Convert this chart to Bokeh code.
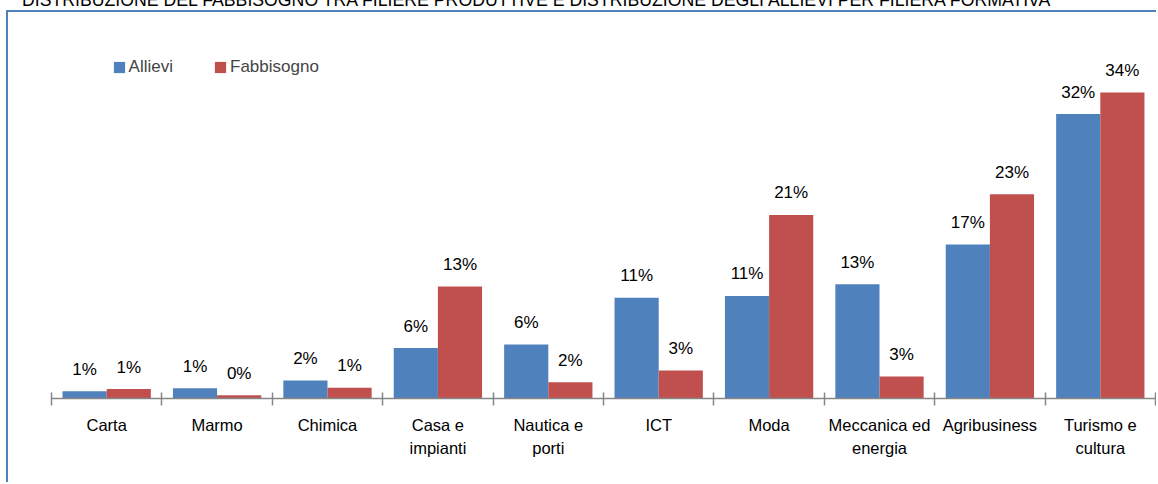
from bokeh.plotting import figure
from bokeh.models import (Range1d, LinearAxis, FixedTicker, Div, Column,
                          ColumnDataSource, Legend, LegendItem)
from bokeh.transform import dodge
from bokeh.core.properties import value
from bokeh.embed import file_html
from bokeh.resources import INLINE

# ---------------- data ----------------
title_text = ("DISTRIBUZIONE DEL FABBISOGNO TRA FILIERE PRODUTTIVE E "
              "DISTRIBUZIONE DEGLI ALLIEVI PER FILIERA FORMATIVA")
categories = ["Carta", "Marmo", "Chimica", "Casa e\nimpianti", "Nautica e\nporti", "ICT",
              "Moda", "Meccanica ed\nenergia", "Agribusiness", "Turismo e\ncultura"]
allievi = [0.8, 1.15, 2.0, 5.6, 6.0, 11.2, 11.4, 12.7, 17.1, 31.6]
fabbisogno = [1.05, 0.35, 1.2, 12.45, 1.8, 3.1, 20.4, 2.45, 22.7, 34.0]
allievi_labels = ["1%", "1%", "2%", "6%", "6%", "11%", "11%", "13%", "17%", "32%"]
fabbisogno_labels = ["1%", "0%", "1%", "13%", "2%", "3%", "21%", "3%", "23%", "34%"]
series_names = ["Allievi", "Fabbisogno"]

n = len(categories)
centers = [i + 0.5 for i in range(n)]
edges = list(range(n + 1))

FONT = "Liberation Sans"
BLUE = "#4F81BD"
RED = "#C0504D"
GREY = "#868686"

src = ColumnDataSource(dict(xc=centers, a=allievi, f=fabbisogno,
                            la=allievi_labels, lf=fabbisogno_labels))

W, H = 1150, 472
FRAME_TOP = 28
FRAME_BOTTOM = 386
PX_PER_PCT = 9.0

p = figure(width=W, height=H,
           x_range=Range1d(edges[0], edges[-1]),
           y_range=Range1d(0, (FRAME_BOTTOM - FRAME_TOP) / PX_PER_PCT),
           output_backend="svg", toolbar_location=None,
           x_axis_location=None, y_axis_location=None,
           min_border_left=43, min_border_right=3,
           min_border_top=FRAME_TOP, min_border_bottom=H - FRAME_BOTTOM)
p.styles = {"border-left": f"2px solid {BLUE}", "border-top": f"2px solid {BLUE}",
            "margin-left": "6px"}
p.outline_line_color = None
p.grid.visible = False
p.background_fill_color = "white"
p.border_fill_color = "white"

ra = p.vbar(x=dodge("xc", -0.2), top="a", width=0.4, source=src,
            fill_color=BLUE, line_color=None)
rf = p.vbar(x=dodge("xc", 0.2), top="f", width=0.4, source=src,
            fill_color=RED, line_color=None)

for xo, col, lab in [(-0.2, "a", "la"), (0.2, "f", "lf")]:
    p.text(x=dodge("xc", xo), y=col, text=lab, source=src,
           text_align="center", text_baseline="alphabetic", y_offset=-22,
           text_font=value(FONT), text_font_size="17px", text_color="#000000")

# axis with ticks at category boundaries
tick_axis = LinearAxis(ticker=FixedTicker(ticks=edges, minor_ticks=[]),
                       axis_line_color=GREY, axis_line_width=1.5,
                       major_tick_line_color=GREY, major_tick_line_width=1.5,
                       major_tick_in=6, major_tick_out=7,
                       minor_tick_line_color=None,
                       major_label_overrides={e: "" for e in edges},
                       major_label_text_font_size="1px", major_label_standoff=0)
p.add_layout(tick_axis, "below")

# category names
cat_axis = LinearAxis(ticker=FixedTicker(ticks=centers, minor_ticks=[]),
                      major_label_overrides={c: name for c, name in zip(centers, categories)},
                      axis_line_color=None, major_tick_line_color=None,
                      minor_tick_line_color=None, major_tick_in=0, major_tick_out=0,
                      major_label_standoff=10,
                      major_label_text_font=FONT, major_label_text_font_size="16.5px",
                      major_label_text_color="#000000",
                      major_label_text_line_height=1.3)
p.add_layout(cat_axis, "below")

legend = Legend(items=[LegendItem(label=series_names[0], renderers=[ra]),
                       LegendItem(label=series_names[1], renderers=[rf])],
                orientation="horizontal", location=(60.6, 321.5),
                glyph_width=14, glyph_height=14, label_standoff=3, spacing=40,
                padding=0, margin=0, border_line_color=None, background_fill_alpha=0,
                label_text_font=FONT, label_text_font_size="17px", label_height=20)
p.add_layout(legend, "center")

title = Div(text=title_text, width=1130, height=20, margin=(-10, 0, 0, 22),
            styles={"font-family": FONT, "font-size": "17.7px", "line-height": "20px",
                    "white-space": "nowrap", "color": "#000000"})

layout = Column(title, p, spacing=0)
open("out.html", "w").write(file_html(layout, INLINE))
